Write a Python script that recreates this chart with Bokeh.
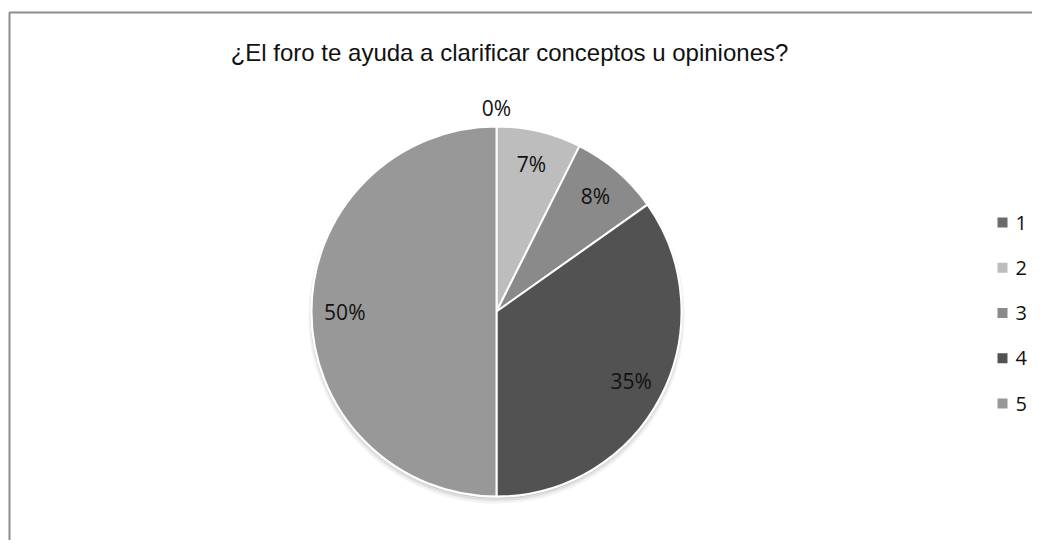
import numpy as np
from bokeh.plotting import figure
from bokeh.models import Range1d, ColumnDataSource
from bokeh.core.properties import value
from bokeh.embed import file_html
from bokeh.resources import INLINE

# ---- data ----
title_text = "¿El foro te ayuda a clarificar conceptos u opiniones?"
categories = ["1", "2", "3", "4", "5"]
values = [0.0, 7.4, 7.8, 34.8, 50.0]
pct_labels = ["0%", "7%", "8%", "35%", "50%"]
colors = ["#6b6b6b", "#bdbdbd", "#8a8a8a", "#525252", "#989898"]

W, H = 1032, 540
def Y(py):
    return H - py

p = figure(width=W, height=H, output_backend="svg", toolbar_location=None,
           x_range=Range1d(0, W), y_range=Range1d(0, H),
           x_axis_location=None, y_axis_location=None, min_border=0)
p.grid.visible = False
p.outline_line_color = None
p.background_fill_color = "white"
p.border_fill_color = "white"

# frame border (left and top visible)
p.line(x=[9, 9, W], y=[0, Y(12), Y(12)], line_color="#8c8c8c", line_width=2)

# pie geometry
cx, cy, R = 496, Y(311), 185
vals = np.array(values, dtype=float)
frac = vals / vals.sum()
cum_end = np.cumsum(frac)
cum_start = cum_end - frac
start = np.pi / 2 - cum_start * 2 * np.pi
end = np.pi / 2 - cum_end * 2 * np.pi

# soft shadow
for off, rr, a in [(4, R + 3, 0.05), (3, R + 1.5, 0.07), (2, R, 0.10)]:
    p.circle(x=[cx], y=[cy - off], radius=rr, fill_color="black", fill_alpha=a, line_color=None)

src = ColumnDataSource(dict(cat=categories, start=start, end=end, color=colors,
                            lab=pct_labels, frac=frac))
p.wedge(x=cx, y=cy, radius=R, start_angle="start", end_angle="end", direction="clock",
        fill_color="color", line_color="white", line_width=2, source=src)

# percentage labels
mid = (start + end) / 2
lr = np.where(frac < 0.01, R * 1.1, R * 0.82)
lx = cx + lr * np.cos(mid)
ly = cy + lr * np.sin(mid)
p.text(x=lx, y=ly, text=pct_labels, text_align="center", text_baseline="middle",
       text_font=value("Open Sans"), text_font_size="21px", text_color="#111111")

# title
p.text(x=[509], y=[Y(52)], text=[title_text], text_align="center", text_baseline="middle",
       text_font=value("Liberation Sans"), text_font_size="24px", text_color="#111111")

# legend
ly0, dy = 222, 45.25
leg_y = [Y(ly0 + i * dy) for i in range(len(categories))]
p.scatter(x=[1002] * len(categories), y=leg_y, marker="square", size=10,
          fill_color=colors, line_color=None)
p.text(x=[1015] * len(categories), y=leg_y, text=categories, text_align="left",
       text_baseline="middle", text_font=value("Open Sans"), text_font_size="20px",
       text_color="#111111")

open("out.html", "w").write(file_html(p, INLINE))
